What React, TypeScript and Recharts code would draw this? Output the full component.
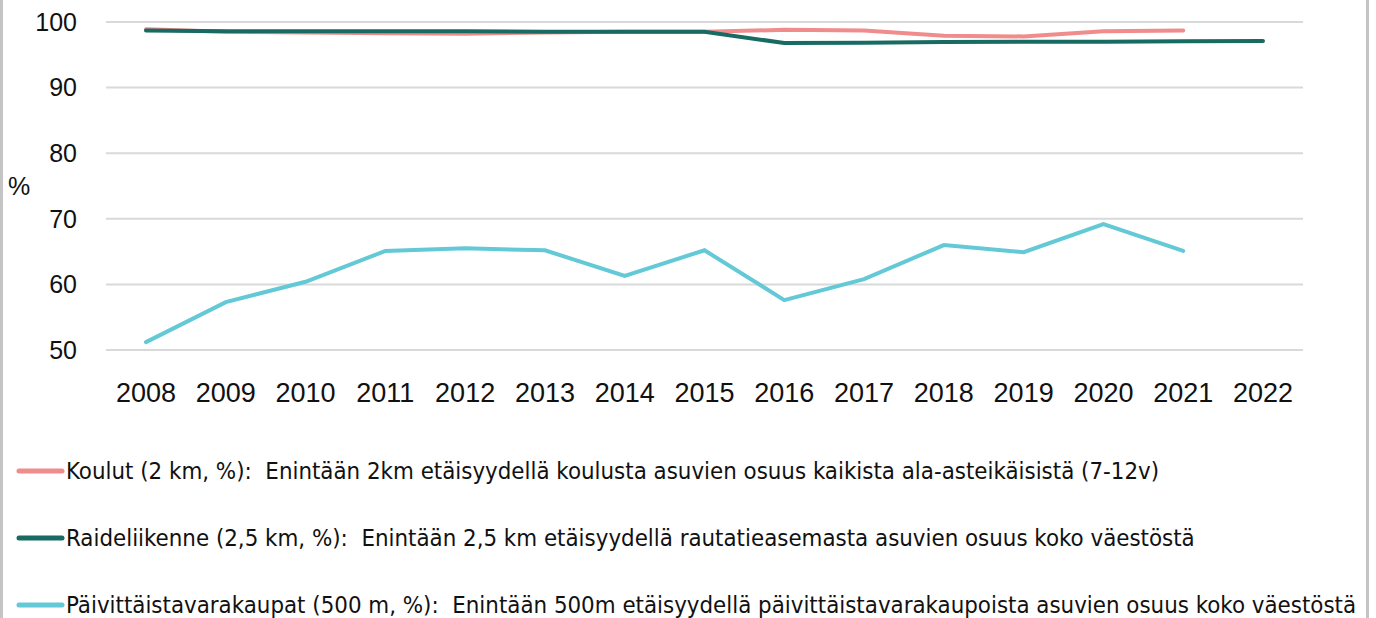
import { LineChart, Line, XAxis, YAxis, CartesianGrid, Legend } from 'recharts';

const years = ['2008', '2009', '2010', '2011', '2012', '2013', '2014', '2015', '2016', '2017', '2018', '2019', '2020', '2021', '2022'];
const koulut = [98.9, 98.5, 98.4, 98.3, 98.2, 98.4, 98.5, 98.5, 98.8, 98.7, 97.9, 97.8, 98.6, 98.7, null];
const raide = [98.7, 98.6, 98.6, 98.6, 98.6, 98.5, 98.5, 98.5, 96.8, 96.85, 96.95, 97.0, 97.0, 97.05, 97.1];
const paivittais = [51.2, 57.3, 60.4, 65.1, 65.5, 65.2, 61.3, 65.2, 57.6, 60.8, 66.0, 64.9, 69.2, 65.1, null];
const yTicks = [50, 60, 70, 80, 90, 100];

const series = [
  { key: 'koulut', color: '#f08c8c', name: 'Koulut (2 km, %):  Enintään 2km etäisyydellä koulusta asuvien osuus kaikista ala-asteikäisistä (7-12v)' },
  { key: 'raide', color: '#176b62', name: 'Raideliikenne (2,5 km, %):  Enintään 2,5 km etäisyydellä rautatieasemasta asuvien osuus koko väestöstä' },
  { key: 'paivittais', color: '#63c9d6', name: 'Päivittäistavarakaupat (500 m, %):  Enintään 500m etäisyydellä päivittäistavarakaupoista asuvien osuus koko väestöstä' },
];

const data = years.map((year, i) => ({
  year,
  koulut: koulut[i],
  raide: raide[i],
  paivittais: paivittais[i],
}));

const axisFont = '"Liberation Sans", Arial, sans-serif';
const legendFont = '"Liberation Sans Narrow", "DejaVu Sans Condensed", Lato, sans-serif';

function LegendRows() {
  return (
    <div style={{ fontFamily: legendFont, fontSize: 23.8, color: '#111' }}>
      {series.map((s) => (
        <div key={s.key} style={{ height: 67, display: 'flex', alignItems: 'center' }}>
          <svg width={66} height={10} style={{ flex: 'none' }}>
            <line x1={19} y1={5} x2={62} y2={5} stroke={s.color} strokeWidth={5} strokeLinecap="round" />
          </svg>
          <span style={{ whiteSpace: 'pre' }}>{s.name}</span>
        </div>
      ))}
    </div>
  );
}

export default function App() {
  return (
    <div style={{ position: 'absolute', left: 0, top: 0, width: 1376, height: 618, background: '#fff', overflow: 'hidden' }}>
      <LineChart width={1376} height={618} data={data} margin={{ top: 22, right: 73, bottom: 0, left: 0 }}>
        <CartesianGrid vertical={false} stroke="#d9d9d9" strokeWidth={2} />
        <XAxis
          dataKey="year"
          height={108}
          axisLine={false}
          tickLine={false}
          tickSize={0}
          tickMargin={33}
          padding={{ left: 40, right: 40 }}
          interval={0}
          tick={{ fill: '#111', fontSize: 27, fontFamily: axisFont }}
        />
        <YAxis
          width={106}
          domain={[50, 100]}
          ticks={yTicks}
          axisLine={false}
          tickLine={false}
          tickSize={0}
          tickMargin={29}
          tick={{ fill: '#111', fontSize: 25, fontFamily: axisFont }}
          label={{ value: '%', angle: 0, position: 'insideLeft', offset: 8, fill: '#111', fontSize: 25, fontFamily: axisFont }}
        />
        <Legend
          layout="vertical"
          align="center"
          verticalAlign="bottom"
          content={() => <LegendRows />}
          wrapperStyle={{ top: 437, left: 0, bottom: 'auto', width: 1376, height: 160 }}
        />
        {series.map((s) => (
          <Line
            key={s.key}
            type="linear"
            dataKey={s.key}
            name={s.name}
            stroke={s.color}
            strokeWidth={4}
            dot={false}
            activeDot={false}
            strokeLinecap="round"
            isAnimationActive={false}
          />
        ))}
      </LineChart>
      <div
        style={{
          position: 'absolute',
          left: 0,
          top: 0,
          width: 1369,
          height: 618,
          borderLeft: '3px solid #c4c4c4',
          borderRight: '3px solid #c4c4c4',
          boxSizing: 'border-box',
          pointerEvents: 'none',
          zIndex: 5,
        }}
      />
    </div>
  );
}
